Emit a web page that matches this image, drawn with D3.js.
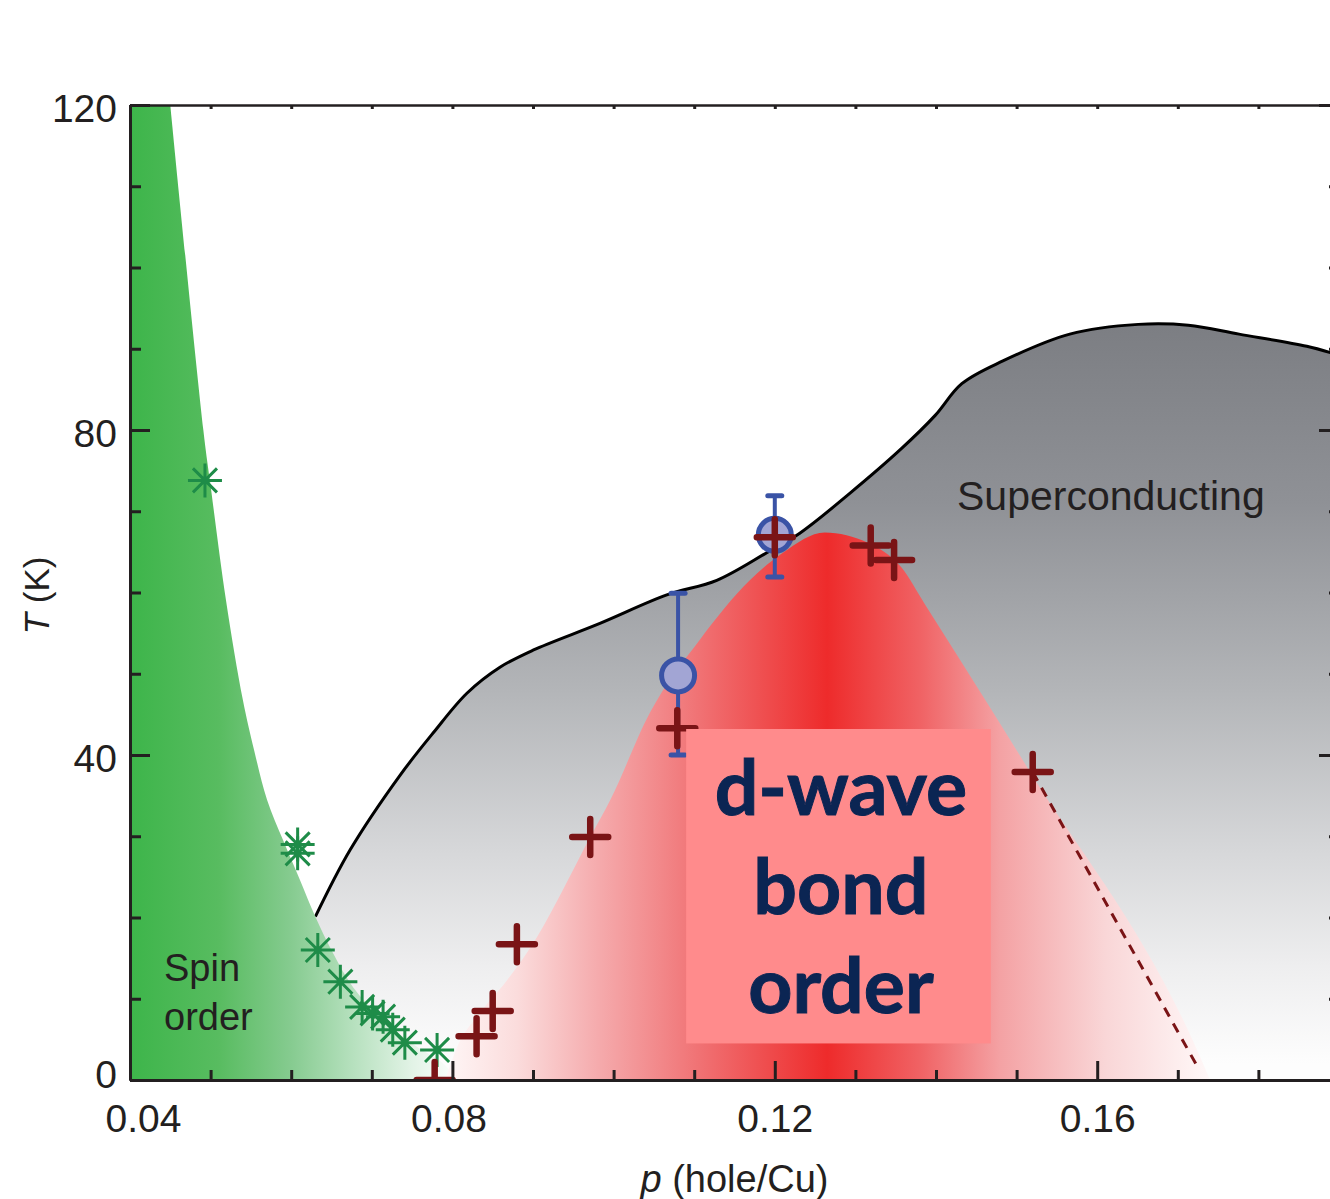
<!DOCTYPE html>
<html>
<head>
<meta charset="utf-8">
<script src="https://cdn.jsdelivr.net/npm/d3@7"></script>
<style>
  body { margin: 0; background: #fff; }
  svg { display: block; }
</style>
</head>
<body>
<div id="chart"><svg width="1330" height="1199"></svg></div>
<script>
// tick values
const pMajorTicks = [0.04, 0.08, 0.12, 0.16];
const pMinorTicks = [0.05, 0.06, 0.07, 0.09, 0.10, 0.11, 0.13, 0.14, 0.15, 0.17, 0.18];
const tMajorTicks = [0, 40, 80, 120];
const tMinorTicks = [10, 20, 30, 50, 60, 70, 90, 100, 110];

// spin order boundary [p, T]
const spinEdge = [[0.0450, 120], [0.0491, 80], [0.0499, 73.9], [0.0519, 59.1], [0.0540, 46.8],
  [0.0554, 40.6], [0.0570, 34.5], [0.0590, 29.5], [0.0611, 24.6], [0.0630, 20.1],
  [0.0652, 15.6], [0.0677, 11.4], [0.0714, 7.4], [0.0756, 4.1], [0.0788, 2.1], [0.0806, 0]];

// superconducting dome [p, T]
const scDome = [[0.0630, 20.1], [0.0673, 28.3], [0.0735, 37.5], [0.0776, 42.7], [0.0818, 47.6],
  [0.0859, 50.8], [0.0900, 52.9], [0.0983, 56.2], [0.1066, 59.7], [0.1128, 61.5],
  [0.1190, 64.9], [0.1231, 67.3], [0.1293, 72.2], [0.1357, 77.7], [0.1399, 81.8],
  [0.1432, 85.7], [0.1483, 88.5], [0.1566, 91.8], [0.1651, 93.0], [0.1713, 92.9],
  [0.1776, 91.8], [0.1860, 90.3], [0.1900, 89.2]];

// bond order dome [p, T]
const bondDome = [[0.0791, 0], [0.0806, 4.1], [0.0834, 8.2], [0.0868, 12.3], [0.0905, 17.6],
  [0.0937, 23.4], [0.0971, 29.9], [0.0996, 34.5], [0.1045, 45.2], [0.1107, 54.2],
  [0.1169, 61.5], [0.1210, 64.9], [0.1262, 67.4], [0.1316, 66.1], [0.1357, 63.1],
  [0.1386, 58.6], [0.1461, 46.8], [0.1513, 38.5], [0.1731, 2.1], [0.1740, 0]];

// spin order points (asterisks)
const spinP = [0.0493, 0.0608, 0.0608, 0.0633, 0.0661, 0.0688, 0.0701, 0.0714, 0.0726, 0.0741, 0.0781];
const spinT = [73.8, 29.0, 27.9, 16.0, 12.1, 9.0, 8.2, 7.8, 6.2, 4.6, 3.7];

// bond order points (crosses)
const bondP = [0.0778, 0.0830, 0.0850, 0.0880, 0.0971, 0.1079, 0.1200, 0.1319, 0.1348, 0.1520];
const bondT = [0, 5.4, 8.5, 16.7, 29.9, 43.3, 66.8, 65.8, 64.0, 37.9];

// circles with error bars
const circP = [0.108, 0.120];
const circT = [49.8, 67.1];
const circLo = [40.0, 61.9];
const circHi = [59.9, 71.9];

// dashed extrapolation
const dashLine = [[0.1520, 37.9], [0.1724, 1.7]];

const svg = d3.select("#chart svg");
const x = d3.scaleLinear().domain([0.04, 0.19]).range([130, 1339]);
const y = d3.scaleLinear().domain([0, 120]).range([1080, 105]);
const font = "'Liberation Sans', Arial, Helvetica, sans-serif";
const ink = "#231f20";

const defs = svg.append("defs");

defs.append("clipPath").attr("id", "plot")
  .append("rect")
  .attr("x", x(0.04)).attr("y", y(120))
  .attr("width", x(0.19) - x(0.04)).attr("height", y(0) - y(120));

function hGrad(id, stops) {
  const x0 = stops[0][0], x1 = stops[stops.length - 1][0];
  const g = defs.append("linearGradient").attr("id", id)
    .attr("gradientUnits", "userSpaceOnUse")
    .attr("x1", x(x0)).attr("x2", x(x1))
    .attr("y1", 0).attr("y2", 0);
  stops.forEach(s => g.append("stop")
    .attr("offset", (s[0] - x0) / (x1 - x0)).attr("stop-color", s[1]));
}

hGrad("greenGrad", [[0.04, "#3db54a"], [0.051, "#58bc60"], [0.060, "#86cb90"],
  [0.0675, "#b5e0bd"], [0.075, "#e2f3e6"], [0.081, "#ffffff"]]);

hGrad("redGrad", [[0.0785, "#fff8f8"], [0.088, "#fbdcdc"], [0.098, "#f5abad"],
  [0.111, "#f07072"], [0.1265, "#ee2b2b"], [0.138, "#f06264"], [0.148, "#f4a2a4"],
  [0.161, "#f9d6d7"], [0.174, "#fff8f8"]]);

const grayGrad = defs.append("linearGradient").attr("id", "grayGrad")
  .attr("gradientUnits", "userSpaceOnUse")
  .attr("x1", 0).attr("x2", 0).attr("y1", y(94)).attr("y2", y(2));
[[0, "#7b7d82"], [0.25, "#8f9196"], [0.5, "#b3b5b8"], [0.72, "#d7d8da"], [0.87, "#eeeeef"], [1, "#fdfdfd"]]
  .forEach(s => grayGrad.append("stop").attr("offset", s[0]).attr("stop-color", s[1]));

const plot = svg.append("g").attr("clip-path", "url(#plot)");

const smooth = d3.line().x(d => x(d[0])).y(d => y(d[1])).curve(d3.curveCatmullRom.alpha(0.5));

// superconducting dome
plot.append("path")
  .attr("d", "M" + x(0.063) + "," + y(0) + smooth(scDome).replace(/^M/, "L") +
    "L" + x(0.19) + "," + y(0) + "Z")
  .attr("fill", "url(#grayGrad)");
plot.append("path")
  .attr("d", smooth(scDome))
  .attr("fill", "none")
  .attr("stroke", "#000")
  .attr("stroke-width", 3);

// spin order region
plot.append("path")
  .attr("d", "M" + x(0.04) + "," + y(120) + smooth(spinEdge).replace(/^M/, "L") +
    "L" + x(0.04) + "," + y(0) + "Z")
  .attr("fill", "url(#greenGrad)");

// bond order region
plot.append("path")
  .attr("d", d3.line().x(d => x(d[0])).y(d => y(d[1])).curve(d3.curveMonotoneX)(bondDome) + "Z")
  .attr("fill", "url(#redGrad)");

// dashed line
plot.append("path")
  .attr("d", d3.line().x(d => x(d[0])).y(d => y(d[1]))(dashLine))
  .attr("fill", "none")
  .attr("stroke", "#7a1416")
  .attr("stroke-width", 3)
  .attr("stroke-dasharray", "10,8");

// asterisks
const r = 17, q = r * Math.SQRT1_2;
const starPath = `M${-r},0L${r},0M0,${-r}L0,${r}M${-q},${-q}L${q},${q}M${-q},${q}L${q},${-q}`;
for (let i = 0; i < spinP.length; i++) {
  plot.append("path")
    .attr("transform", `translate(${x(spinP[i])},${y(spinT[i])})`)
    .attr("d", starPath)
    .attr("fill", "none")
    .attr("stroke", "#1e8c48")
    .attr("stroke-width", 3);
}

// blue circles with error bars
const blue = "#3a53a6";
for (let i = 0; i < circP.length; i++) {
  const cx = x(circP[i]);
  plot.append("line")
    .attr("x1", cx).attr("x2", cx)
    .attr("y1", y(circLo[i])).attr("y2", y(circHi[i]))
    .attr("stroke", blue).attr("stroke-width", 4);
  [circLo[i], circHi[i]].forEach(v => {
    plot.append("line")
      .attr("x1", cx - 7).attr("x2", cx + 7)
      .attr("y1", y(v)).attr("y2", y(v))
      .attr("stroke", blue).attr("stroke-width", 5).attr("stroke-linecap", "round");
  });
  plot.append("circle")
    .attr("cx", cx).attr("cy", y(circT[i])).attr("r", 16.5)
    .attr("fill", "#a2a5d4")
    .attr("stroke", blue).attr("stroke-width", 5);
}

// crosses
const a = 18;
for (let i = 0; i < bondP.length; i++) {
  plot.append("path")
    .attr("transform", `translate(${x(bondP[i])},${y(bondT[i])})`)
    .attr("d", `M${-a},0L${a},0M0,${-a}L0,${a}`)
    .attr("stroke", "#7a1416")
    .attr("stroke-width", 6.5)
    .attr("stroke-linecap", "round");
}

// d-wave bond order box
plot.append("rect")
  .attr("x", x(0.109)).attr("y", y(43.2))
  .attr("width", x(0.1468) - x(0.109)).attr("height", y(4.5) - y(43.2))
  .attr("fill", "#ff8b8c");

const boxText = ["d-wave", "bond", "order"];
boxText.forEach((t, i) => {
  svg.append("text")
    .attr("x", x(0.1282))
    .attr("y", 815 + i * 99)
    .attr("text-anchor", "middle")
    .attr("font-family", "Lato, 'Open Sans', sans-serif")
    .attr("font-weight", "bold")
    .attr("font-size", 77)
    .attr("fill", "#0b2553")
    .attr("stroke", "#0b2553")
    .attr("stroke-width", 1)
    .text(t);
});

// region labels
svg.append("text")
  .attr("x", 957).attr("y", 510)
  .attr("font-family", font).attr("font-size", 41).attr("fill", ink)
  .text("Superconducting");
["Spin", "order"].forEach((t, i) => {
  svg.append("text")
    .attr("x", 164).attr("y", 981 + i * 49)
    .attr("font-family", font).attr("font-size", 38).attr("fill", ink)
    .text(t);
});

// axes
function styleAxis(g) {
  g.selectAll("path.domain").attr("stroke", ink).attr("stroke-width", 3);
  g.selectAll(".tick line").attr("stroke", ink).attr("stroke-width", 3);
  g.selectAll(".tick text").attr("font-family", font).attr("font-size", 39).attr("fill", ink);
  g.attr("font-size", null).attr("font-family", null);
}

const xMinor = svg.append("g").attr("transform", `translate(0,${y(0)})`)
  .call(d3.axisBottom(x).tickValues(pMinorTicks).tickSize(-10).tickSizeOuter(0).tickFormat(""));
styleAxis(xMinor);
const xMajor = svg.append("g").attr("transform", `translate(0,${y(0)})`)
  .call(d3.axisBottom(x).tickValues(pMajorTicks).tickSize(-19).tickSizeOuter(0).tickPadding(24)
    .tickFormat(d3.format(".2f")));
styleAxis(xMajor);
xMajor.selectAll(".tick text").filter(d => d === 0.04).attr("dx", 13);
xMajor.selectAll(".tick text").filter(d => d === 0.08).attr("dx", -4);

const yMinor = svg.append("g").attr("transform", `translate(${x(0.04)},0)`)
  .call(d3.axisLeft(y).tickValues(tMinorTicks).tickSize(-11).tickSizeOuter(0).tickFormat(""));
styleAxis(yMinor);
const yMajor = svg.append("g").attr("transform", `translate(${x(0.04)},0)`)
  .call(d3.axisLeft(y).tickValues(tMajorTicks).tickSize(-20).tickSizeOuter(0).tickPadding(13));
styleAxis(yMajor);
yMajor.selectAll(".tick text").attr("dy", "0.42em");
yMajor.selectAll(".tick text").filter(d => d === 0).attr("dy", "0.2em");

const topAxis = svg.append("g").attr("transform", `translate(0,${y(120)})`)
  .call(d3.axisTop(x).tickValues(pMinorTicks.concat(pMajorTicks)).tickSize(-4).tickSizeOuter(0).tickFormat(""));
styleAxis(topAxis);
topAxis.select("path.domain").attr("stroke-width", 2.5);

const rMinor = svg.append("g").attr("transform", `translate(${x(0.19)},0)`)
  .call(d3.axisRight(y).tickValues(tMinorTicks).tickSize(-10).tickSizeOuter(0).tickFormat(""));
styleAxis(rMinor);
const rMajor = svg.append("g").attr("transform", `translate(${x(0.19)},0)`)
  .call(d3.axisRight(y).tickValues(tMajorTicks).tickSize(-20).tickSizeOuter(0).tickFormat(""));
styleAxis(rMajor);

// axis titles
const yTitle = svg.append("text")
  .attr("transform", `translate(49,${(y(0) + y(120)) / 2 + 3}) rotate(-90)`)
  .attr("text-anchor", "middle")
  .attr("font-family", font).attr("font-size", 35).attr("fill", ink);
yTitle.append("tspan").attr("font-style", "italic").text("T");
yTitle.append("tspan").text(" (K)");

const xTitle = svg.append("text")
  .attr("x", (x(0.04) + x(0.19)) / 2).attr("y", 1192)
  .attr("text-anchor", "middle")
  .attr("font-family", font).attr("font-size", 38).attr("fill", ink);
xTitle.append("tspan").attr("font-style", "italic").text("p");
xTitle.append("tspan").text(" (hole/Cu)");
</script>
</body>
</html>
